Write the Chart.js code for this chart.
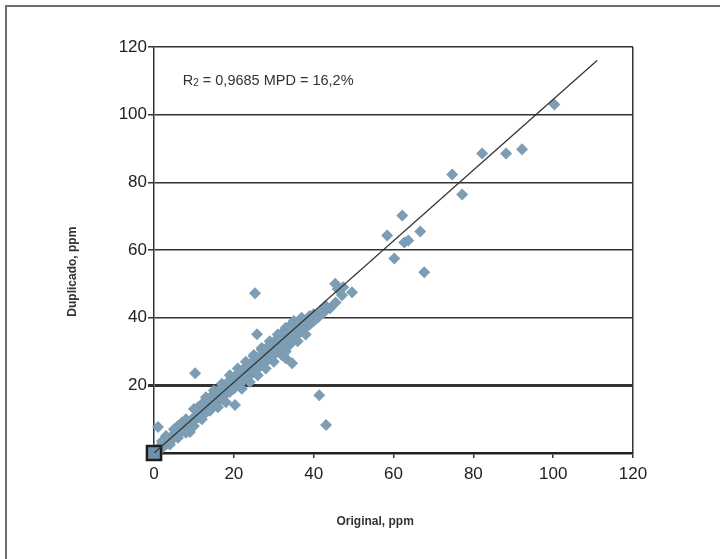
<!DOCTYPE html>
<html>
<head>
<meta charset="utf-8">
<script src="https://cdn.jsdelivr.net/npm/chart.js@4.4.1/dist/chart.umd.min.js"></script>
<style>
html, body { margin: 0; padding: 0; background: #fff; }
#wrap { position: relative; width: 720px; height: 559px; overflow: hidden; }
#frame { position: absolute; left: 5px; top: 5px; width: 800px; height: 700px; border: 2px solid #6e6e6e; }
canvas { position: absolute; left: 0; top: 0; }
</style>
</head>
<body>
<div id="wrap">
  <div id="frame"></div>
  <canvas id="scatterChart" width="720" height="559"></canvas>
</div>
<script>
// original vs duplicate sample values (ppm)
const originalPpm = [
  0, 0.5, 1, 1.5, 2, 2.5, 3, 3, 4, 4.5, 5, 5.5, 6, 6.5, 7, 7.5, 8, 8.5, 9, 9,
  9.5, 10, 10.5, 11, 11, 11.5, 12, 12.5, 13, 13, 13.5, 14, 14, 14.5, 15, 15, 15.5, 16, 16, 16.5,
  17, 17, 17.5, 18, 18, 18.5, 19, 19, 19.5, 20, 20, 20.3, 20.5, 21, 21, 21.5, 22, 22, 22.5, 23,
  23, 23.5, 24, 24, 24.5, 25, 25, 25.5, 26, 26, 26.5, 27, 27, 27.5, 28, 28, 28.5, 29, 29, 29.5,
  30, 30, 30.5, 31, 31, 31.5, 32, 32, 32.5, 33, 33, 33.5, 34, 34, 34.6, 33, 35, 35, 35.5, 36,
  36, 36.5, 37, 37, 38, 38, 39, 39, 40, 40, 41, 42, 38, 36, 33, 30, 28, 26, 24, 22,
  18, 16, 12, 10, 8, 6, 4, 13, 15, 17, 19, 21, 25, 27, 29, 31, 33, 35, 37, 23,
  10, 8, 6, 3,
  14, 16, 18, 20, 22, 24, 26, 28, 30, 32, 34, 36, 15, 17, 19, 21, 23, 25, 27, 29,
  31, 32, 34, 35, 37, 11, 12, 7, 5, 2,
  1, 10.3, 25.3, 25.8, 41.4, 43.1,
  44.1, 43, 42, 42.5, 45.4, 47.4, 49.6, 47.1, 46, 45.5,
  58.4, 60.2, 62.2, 62.7, 63.7, 66.7, 67.7,
  74.7, 77.2, 82.2, 88.2, 92.2, 100.3
];
const duplicadoPpm = [
  0, 0.5, 1, 2, 1.5, 3, 2.5, 4, 3.5, 5, 4.5, 6, 5.5, 7, 6.5, 8, 7.5, 9, 8, 6.2,
  10, 9.5, 11, 10.5, 12.5, 12, 11.5, 13, 12, 14.5, 13.5, 15, 12.5, 14, 16, 14, 17, 15.5, 18, 16.5,
  18, 16, 19, 17.5, 20, 19, 18, 21, 20, 22, 19, 14.2, 21, 20, 23, 22, 21, 24, 23, 22,
  25, 24, 23, 26, 25, 24, 27, 26, 25, 28, 27.5, 26, 29, 28, 27, 30, 29, 28, 31, 30,
  29, 32, 31, 30, 33, 32, 29, 34, 33, 31, 35, 34, 32, 36, 26.5, 28, 34, 37, 36, 35,
  38, 37, 36, 39, 37, 39, 38, 40.5, 39, 41, 40, 41.5, 35, 33, 30, 27, 25, 23, 21, 19,
  15, 13.5, 10, 8, 6, 4.5, 2.5, 16.5, 18.5, 20.5, 23, 25, 29, 31, 33, 35, 37, 39, 40, 27,
  13, 10, 8, 5,
  16, 18, 20, 22, 24, 26, 28, 30, 32, 34, 36, 38, 17.5, 19.5, 21.5, 23.5, 25.5, 28.5, 30.5, 32,
  34, 35.5, 37.5, 38.5, 38.5, 13.5, 14.5, 9, 7, 3.5,
  7.7, 23.6, 47.2, 35.1, 17.1, 8.3,
  42.8, 43.5, 42, 41.5, 50, 49, 47.5, 46.6, 48.5, 44.5,
  64.3, 57.5, 70.2, 62.2, 62.8, 65.5, 53.4,
  82.3, 76.4, 88.5, 88.5, 89.8, 103
];
// fitted line ends
const fitX = [0, 111];
const fitY = [0, 116];
// highlighted origin sample
const originX = [0];
const originY = [0];
const tickValues = [0, 20, 40, 60, 80, 100, 120];

const toPoints = (xs, ys) => xs.map((x, i) => ({ x: x, y: ys[i] }));
const setTicks = scale => { scale.ticks = tickValues.map(v => ({ value: v })); };

const statsLabel = {
  id: 'statsLabel',
  afterDatasetsDraw(chart) {
    const { ctx, scales } = chart;
    const x = scales.x.getPixelForValue(7.2);
    const y = scales.y.getPixelForValue(110.2);
    ctx.save();
    ctx.fillStyle = '#333';
    ctx.textBaseline = 'alphabetic';
    ctx.textAlign = 'left';
    ctx.font = '14.5px "Liberation Sans", Arial, sans-serif';
    ctx.fillText('R', x, y + 5);
    let w = ctx.measureText('R').width;
    ctx.font = '10px "Liberation Sans", Arial, sans-serif';
    ctx.fillText('2', x + w, y + 6);
    w += ctx.measureText('2').width;
    ctx.font = '14.5px "Liberation Sans", Arial, sans-serif';
    ctx.fillText(' = 0,9685 MPD = 16,2%', x + w, y + 5);
    ctx.restore();
  }
};

const ctx = document.getElementById('scatterChart').getContext('2d');

const scatterChart = new Chart(ctx, {
  type: 'scatter',
  data: {
    datasets: [
      {
        type: 'line',
        data: toPoints(fitX, fitY),
        borderColor: '#333',
        borderWidth: 1.3,
        pointRadius: 0,
        fill: false,
        order: 0
      },
      {
        data: toPoints(originX, originY),
        pointStyle: 'rect',
        pointRadius: 10,
        backgroundColor: '#6f91a8',
        borderColor: '#1e1e1e',
        borderWidth: 2.5,
        clip: false,
        order: 1
      },
      {
        data: toPoints(originalPpm, duplicadoPpm),
        pointStyle: 'rectRot',
        pointRadius: 6,
        backgroundColor: '#7c9db3',
        borderWidth: 0,
        clip: false,
        order: 2
      }
    ]
  },
  options: {
    responsive: false,
    animation: false,
    layout: { padding: { left: 0, top: 47, right: 87, bottom: 0 } },
    plugins: {
      legend: { display: false },
      tooltip: { enabled: false }
    },
    scales: {
      x: {
        type: 'linear',
        min: 0,
        max: 120,
        afterBuildTicks: setTicks,
        afterFit: scale => { scale.height = 106; },
        border: { display: true, color: '#222', width: 2.5 },
        grid: {
          drawOnChartArea: true,
          color: c => (c.tick && c.tick.value === 120 ? '#333' : 'rgba(0,0,0,0)'),
          tickColor: '#333',
          lineWidth: 1.5,
          tickLength: 5
        },
        ticks: {
          padding: 6,
          color: '#222',
          font: { family: '"Liberation Sans", Arial, sans-serif', size: 17 }
        },
        title: {
          display: true,
          text: 'Original, ppm           ',
          color: '#333',
          font: { family: '"Liberation Sans", Arial, sans-serif', size: 12, weight: 'bold' },
          padding: { top: 0, bottom: 30 }
        }
      },
      y: {
        type: 'linear',
        min: 0,
        max: 120,
        afterBuildTicks: setTicks,
        afterFit: scale => { scale.width = 154; },
        border: { display: true, color: '#333', width: 1.5 },
        grid: {
          color: c => (c.tick && c.tick.value === 0 ? 'rgba(0,0,0,0)' : '#333'),
          tickColor: c => (c.tick && c.tick.value === 0 ? 'rgba(0,0,0,0)' : '#333'),
          lineWidth: c => (c.tick && c.tick.value === 20 ? 3 : 1.5),
          tickLength: 6
        },
        ticks: {
          padding: 1,
          color: '#222',
          font: { family: '"Liberation Sans", Arial, sans-serif', size: 17 },
          callback: v => (v === 0 ? '' : v)
        },
        title: {
          display: true,
          text: 'Duplicado, ppm             ',
          color: '#333',
          font: { family: '"Liberation Sans", Arial, sans-serif', size: 12, weight: 'bold' },
          padding: { top: 65, bottom: 0 }
        }
      }
    }
  },
  plugins: [statsLabel]
});
</script>
</body>
</html>
